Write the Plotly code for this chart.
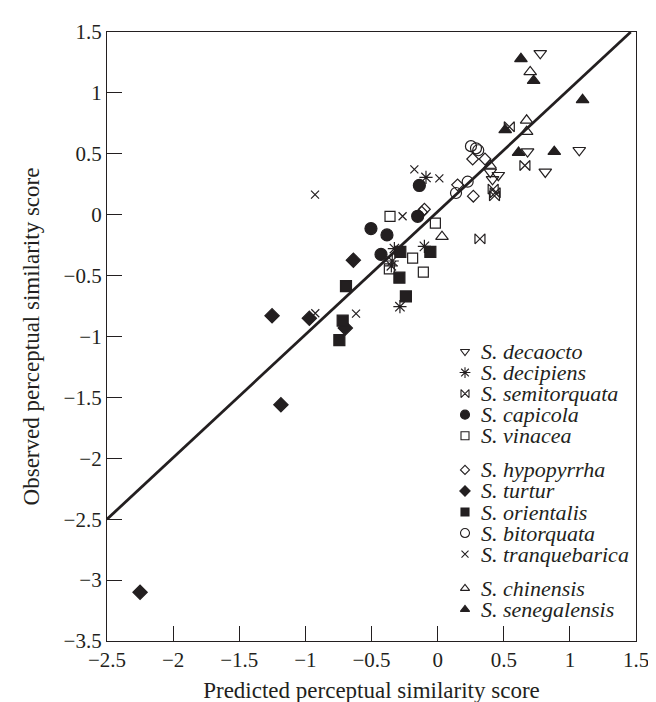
import plotly.graph_objects as go

# ---------------- data ----------------
species = ["S. decaocto", "S. decipiens", "S. semitorquata", "S. capicola", "S. vinacea",
           "S. hypopyrrha", "S. turtur", "S. orientalis", "S. bitorquata", "S. tranquebarica",
           "S. chinensis", "S. senegalensis"]
legend_group = [0, 0, 0, 0, 0, 1, 1, 1, 1, 1, 2, 2]

decaocto_x = [0.776, 0.68, 1.071, 0.814, 0.398, 0.459, 0.415]
decaocto_y = [1.325, 0.518, 0.529, 0.351, 0.351, 0.324, 0.29]

decipiens_x = [-0.088, -0.327, -0.10, -0.343, -0.35, -0.285]
decipiens_y = [0.306, -0.278, -0.26, -0.38, -0.42, -0.755]

semitorquata_x = [0.542, 0.66, 0.42, 0.435, 0.43, 0.32]
semitorquata_y = [0.722, 0.404, 0.21, 0.18, 0.155, -0.198]

capicola_x = [-0.138, -0.151, -0.504, -0.383, -0.428]
capicola_y = [0.24, -0.013, -0.114, -0.166, -0.326]

vinacea_x = [-0.36, -0.017, -0.189, -0.365, -0.108]
vinacea_y = [-0.013, -0.069, -0.357, -0.445, -0.472]

hypopyrrha_x = [0.265, 0.358, 0.151, 0.27, -0.10, -0.12]
hypopyrrha_y = [0.457, 0.457, 0.245, 0.152, 0.045, 0.02]

turtur_x = [-0.637, -1.252, -0.97, -0.698, -1.185, -2.25]
turtur_y = [-0.373, -0.83, -0.851, -0.93, -1.56, -3.10]

orientalis_x = [-0.282, -0.055, -0.289, -0.693, -0.24, -0.718, -0.743]
orientalis_y = [-0.305, -0.305, -0.517, -0.586, -0.671, -0.87, -1.03]

bitorquata_x = [0.252, 0.29, 0.307, 0.227, 0.139]
bitorquata_y = [0.563, 0.545, 0.529, 0.271, 0.178]

tranquebarica_x = [-0.176, 0.013, -0.927, -0.265, -0.925, -0.617]
tranquebarica_y = [0.372, 0.298, 0.165, -0.013, -0.809, -0.812]

chinensis_x = [0.70, 0.673, 0.673, 0.396, 0.033]
chinensis_y = [1.172, 0.775, 0.682, 0.404, -0.18]

senegalensis_x = [0.63, 0.726, 1.096, 0.511, 0.612, 0.882]
senegalensis_y = [1.28, 1.10, 0.943, 0.696, 0.51, 0.518]

fit_slope = 1.01
fit_intercept = 0.025
fit_x = [-2.5, 1.46]

x_ticks = [-2.5, -2, -1.5, -1, -0.5, 0, 0.5, 1, 1.5]
y_ticks = [-3.5, -3, -2.5, -2, -1.5, -1, -0.5, 0, 0.5, 1, 1.5]

# ---------------- styling ----------------
INK = "#231f20"
series_xy = [
    (decaocto_x, decaocto_y), (decipiens_x, decipiens_y), (semitorquata_x, semitorquata_y),
    (capicola_x, capicola_y), (vinacea_x, vinacea_y), (hypopyrrha_x, hypopyrrha_y),
    (turtur_x, turtur_y), (orientalis_x, orientalis_y), (bitorquata_x, bitorquata_y),
    (tranquebarica_x, tranquebarica_y), (chinensis_x, chinensis_y),
    (senegalensis_x, senegalensis_y),
]
symbols = ["triangle-down-open", "asterisk-open", "bowtie-open", "circle", "square-open",
           "diamond-open", "diamond", "square", "circle-open", "x-thin-open",
           "triangle-up-open", "triangle-up"]
sizes = [11, 11, 10, 12, 10, 9, 11, 11, 11, 8, 11, 11]
leg_sizes = [8, 9, 8, 9, 8, 7, 8, 8, 9, 7, 8, 8]

W, H = 656, 702
L, R, T, B = 99, 28, 14, 60
PW, PH = W - L - R, H - T - B

fig = go.Figure()

fit_y = [fit_slope * v + fit_intercept for v in fit_x]
fig.add_trace(go.Scatter(x=fit_x, y=fit_y, mode="lines",
                         line=dict(color=INK, width=2.8), showlegend=False, hoverinfo="skip"))

for name, (xs, ys), sym, sz in zip(species, series_xy, symbols, sizes):
    fig.add_trace(go.Scatter(
        x=xs, y=ys, mode="markers", name=name, showlegend=False,
        marker=dict(symbol=sym, size=sz, color=INK, line=dict(color=INK, width=1.2)),
    ))

# ---------------- custom legend (overlay axis in pixel units) ----------------
leg_sym_px = 457
leg_text_px = 471
row0_py = 343.5
row_step = 21.7
group_gap = 13.6
leg_px, leg_py = [], []
for i, g in enumerate(legend_group):
    leg_px.append(leg_sym_px - L)
    leg_py.append(row0_py + i * row_step + g * group_gap - T)

for i, name in enumerate(species):
    fig.add_trace(go.Scatter(
        x=[leg_px[i]], y=[leg_py[i]], mode="markers", xaxis="x2", yaxis="y2",
        showlegend=False, hoverinfo="skip",
        marker=dict(symbol=symbols[i], size=leg_sizes[i], color=INK,
                    line=dict(color=INK, width=1.1)),
    ))
    fig.add_annotation(
        x=leg_text_px - L, y=leg_py[i], xref="x2", yref="y2",
        text="<i>" + name + "</i>", showarrow=False, xanchor="left", yanchor="middle",
        font=dict(family="Liberation Serif", size=22, color=INK),
    )

axis_common = dict(
    showgrid=False, zeroline=False, showline=True, linecolor=INK, linewidth=1.2,
    mirror=True, ticks="inside", ticklen=15, tickwidth=1.1, tickcolor=INK,
    tickfont=dict(family="Liberation Serif", size=21, color=INK),
)

fig.update_layout(
    width=W, height=H,
    margin=dict(l=L, r=R, t=T, b=B),
    paper_bgcolor="white", plot_bgcolor="white",
    showlegend=False,
    xaxis=dict(range=[-2.5, 1.5], tickvals=x_ticks,
               title=dict(text="Predicted perceptual similarity score",
                          font=dict(family="Liberation Serif", size=23, color=INK), standoff=10),
               **axis_common),
    yaxis=dict(range=[-3.5, 1.5], tickvals=y_ticks,
               title=dict(text="Observed perceptual similarity score",
                          font=dict(family="Liberation Serif", size=23, color=INK), standoff=17),
               **axis_common),
    xaxis2=dict(range=[0, PW], overlaying="x", visible=False, fixedrange=True),
    yaxis2=dict(range=[PH, 0], overlaying="y", visible=False, fixedrange=True),
)

fig.write_html("out.html")
